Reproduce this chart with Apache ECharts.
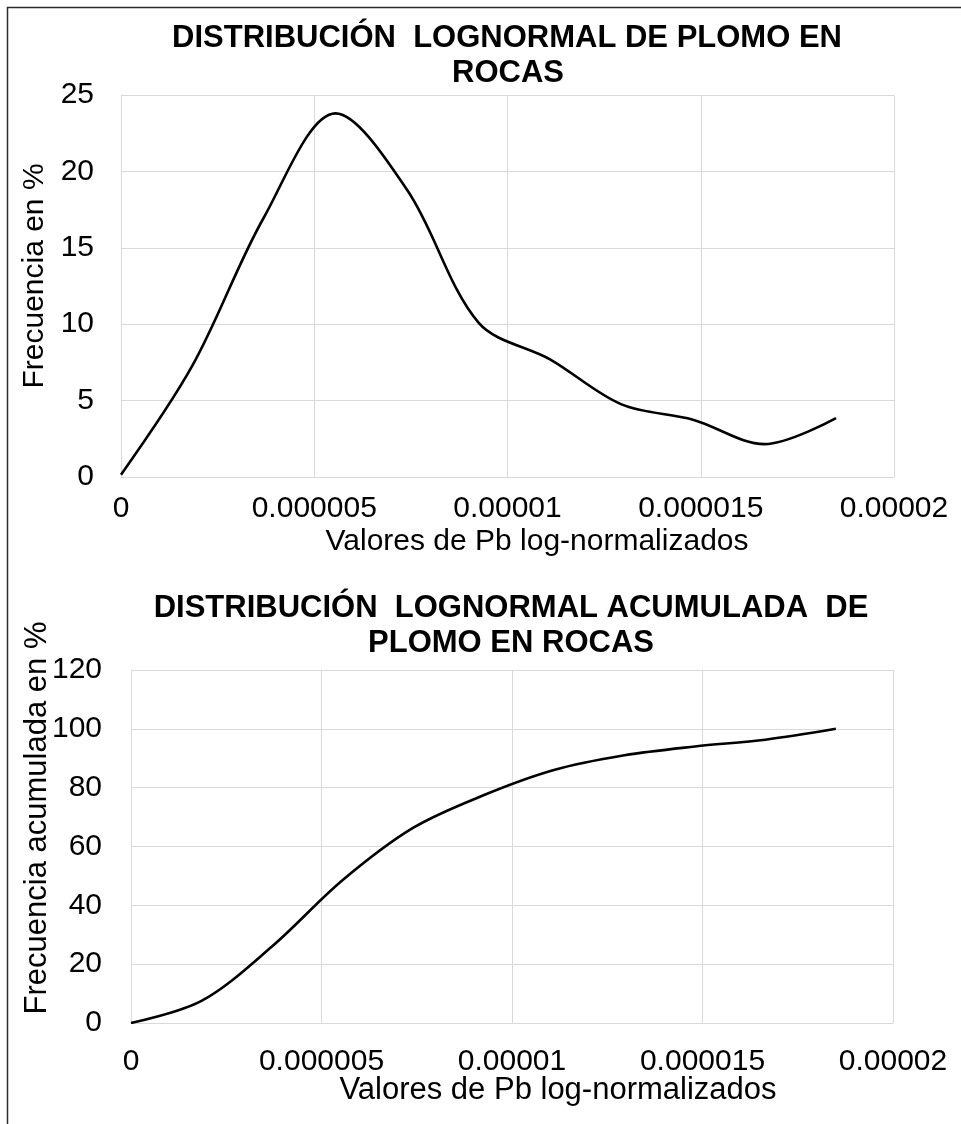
<!DOCTYPE html>
<html>
<head>
<meta charset="utf-8">
<style>
  html, body { margin: 0; padding: 0; background: #fff; }
  #chart { width: 961px; height: 1124px; }
</style>
<script src="https://cdn.jsdelivr.net/npm/echarts@6/dist/echarts.min.js"></script>
</head>
<body>
<div id="chart"></div>
<script>
// ---- data ----
const pbValues = [0, 0.00000185, 0.0000037, 0.00000555, 0.0000074, 0.00000925, 0.0000111, 0.00001295, 0.0000148, 0.00001665, 0.0000185];
const frecuencia = [0.15, 7.3, 17.0, 23.8, 18.8, 10.1, 7.7, 4.75, 3.75, 2.15, 3.85];
const frecuenciaAcumulada = [0, 7.5, 26, 48.5, 66.3, 77.4, 86, 91, 94, 96.3, 100];
const xTickLabels = ['0', '0.000005', '0.00001', '0.000015', '0.00002'];
const yTicksTop = [0, 5, 10, 15, 20, 25];
const yTicksBottom = [0, 20, 40, 60, 80, 100, 120];
const titleTop = ['DISTRIBUCIÓN  LOGNORMAL DE PLOMO EN', 'ROCAS'];
const titleBottom = ['DISTRIBUCIÓN  LOGNORMAL ACUMULADA  DE', 'PLOMO EN ROCAS'];
const xName = 'Valores de Pb log-normalizados';
const yNameTop = 'Frecuencia en %';
const yNameBottom = 'Frecuencia acumulada en %';

const FONT = "'Liberation Sans', Arial, sans-serif";
const GRID_COLOR = '#d9d9d9';

const chart = echarts.init(document.getElementById('chart'), null, { renderer: 'canvas' });

function xAxisCfg(gridIndex, margin) {
  return {
    type: 'value', gridIndex: gridIndex, min: 0, max: 0.00002, interval: 0.000005,
    axisLine: { show: true, lineStyle: { color: GRID_COLOR, width: 1 } },
    axisTick: { show: false },
    splitLine: { show: true, lineStyle: { color: GRID_COLOR, width: 1 } },
    axisLabel: {
      margin: margin, color: '#000', fontFamily: FONT, fontSize: 30,
      formatter: function (v) { return xTickLabels[Math.round(v / 0.000005)]; }
    }
  };
}
function yAxisCfg(gridIndex, ticks, margin) {
  return {
    type: 'value', gridIndex: gridIndex, min: ticks[0], max: ticks[ticks.length - 1],
    interval: ticks[1] - ticks[0],
    axisLine: { show: true, lineStyle: { color: GRID_COLOR, width: 1 } },
    axisTick: { show: false },
    splitLine: { show: true, lineStyle: { color: GRID_COLOR, width: 1 } },
    axisLabel: { margin: margin, color: '#000', fontFamily: FONT, fontSize: 30 }
  };
}
function txt(t, x, y, size, bold, rot) {
  return {
    type: 'text', x: x, y: y, rotation: rot || 0, silent: true,
    style: {
      text: t, x: 0, y: 0, fill: '#000', align: 'center', verticalAlign: 'middle',
      font: (bold ? 'bold ' : '') + size + 'px ' + FONT
    }
  };
}

const option = {
  backgroundColor: '#fff',
  animation: false,
  grid: [
    { left: 121, top: 95, width: 773, height: 382 },
    { left: 131, top: 670, width: 762, height: 353 }
  ],
  xAxis: [xAxisCfg(0, 17), xAxisCfg(1, 24)],
  yAxis: [yAxisCfg(0, yTicksTop, 27), yAxisCfg(1, yTicksBottom, 29)],
  series: [
    {
      type: 'line', xAxisIndex: 0, yAxisIndex: 0, smooth: 0.33, showSymbol: false,
      lineStyle: { color: '#000', width: 2.6 },
      data: pbValues.map((x, i) => [x, frecuencia[i]])
    },
    {
      type: 'line', xAxisIndex: 1, yAxisIndex: 1, smooth: 0.33, showSymbol: false,
      lineStyle: { color: '#000', width: 2.6 },
      data: pbValues.map((x, i) => [x, frecuenciaAcumulada[i]])
    }
  ],
  graphic: [
    { type: 'line', silent: true, shape: { x1: 7.5, y1: 7, x2: 7.5, y2: 1124 }, style: { stroke: '#2b2b2b', lineWidth: 1.5 } },
    { type: 'line', silent: true, shape: { x1: 7, y1: 7.5, x2: 961, y2: 7.5 }, style: { stroke: '#2b2b2b', lineWidth: 1.5 } },
    txt(titleTop[0], 507, 38, 31, true),
    txt(titleTop[1], 508, 73, 31, true),
    txt(titleBottom[0], 511, 608, 31, true),
    txt(titleBottom[1], 511, 643, 31, true),
    txt(xName, 537, 542, 30, false),
    txt(xName, 558, 1090, 31, false),
    txt(yNameTop, 35, 276, 30, false, Math.PI / 2),
    txt(yNameBottom, 37, 818, 31, false, Math.PI / 2)
  ]
};
chart.setOption(option);
</script>
</body>
</html>
